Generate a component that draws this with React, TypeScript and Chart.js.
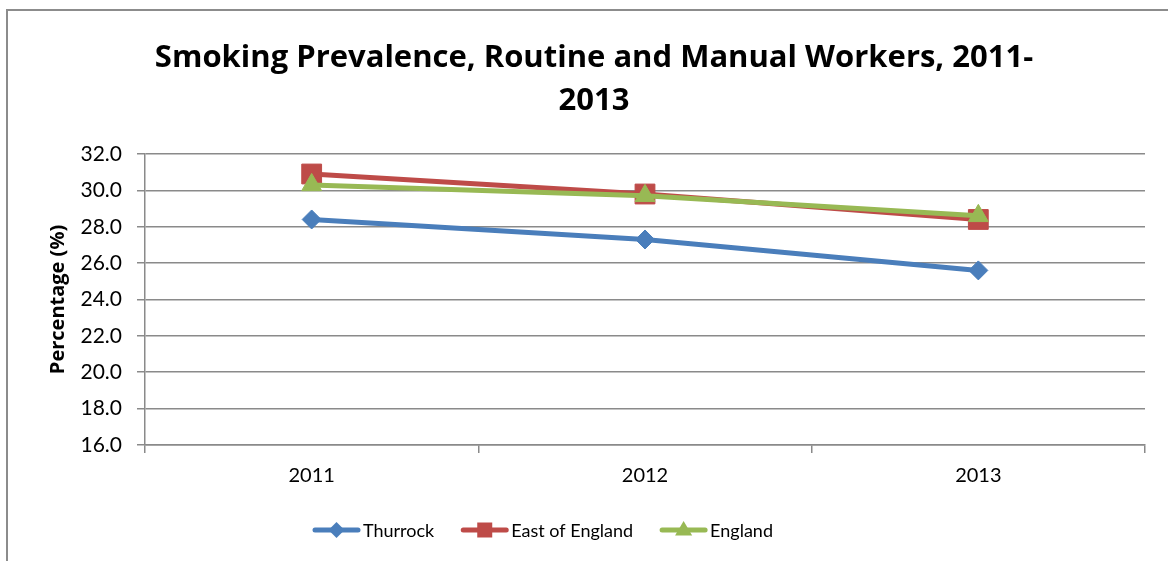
import React, { useEffect, useRef } from "react";
import { Chart, registerables } from "chart.js";

Chart.register(...registerables);

const categories = ["2011", "2012", "2013"];
const thurrock = [28.4, 27.3, 25.6];
const eastOfEngland = [30.9, 29.8, 28.4];
const england = [30.3, 29.7, 28.6];
const titleLines = ["Smoking Prevalence, Routine and Manual Workers, 2011-", "2013"];
const yTitle = "Percentage (%)";
const seriesNames = ["Thurrock", "East of England", "England"];

const BLUE = "#4A7EBB";
const RED = "#BE4B48";
const GREEN = "#98B954";
const GRID = "#8a8a8a";
const FONT = "Lato, 'Open Sans', sans-serif";
const TITLE_FONT = "'Open Sans', Lato, sans-serif";

function drawMarker(ctx: CanvasRenderingContext2D, style: string, x: number, y: number, color: string) {
  ctx.save();
  ctx.fillStyle = color;
  ctx.beginPath();
  if (style === "rectRot") {
    const r = 8;
    ctx.moveTo(x, y - r);
    ctx.lineTo(x + r, y);
    ctx.lineTo(x, y + r);
    ctx.lineTo(x - r, y);
  } else if (style === "rect") {
    const s = 7.5;
    ctx.rect(x - s, y - s, 2 * s, 2 * s);
  } else {
    const r = 9;
    ctx.moveTo(x, y - r);
    ctx.lineTo(x + r * 0.95, y + r * 0.6);
    ctx.lineTo(x - r * 0.95, y + r * 0.6);
  }
  ctx.closePath();
  ctx.fill();
  ctx.restore();
}

const lineLegendPlugin = {
  id: "lineLegend",
  afterDraw(chart: any, _args: any, opts: any) {
    const ctx: CanvasRenderingContext2D = chart.ctx;
    ctx.save();
    ctx.font = `${opts.fontSize}px ${FONT}`;
    ctx.textBaseline = "middle";
    ctx.textAlign = "left";
    let x = opts.x;
    const y = opts.y;
    chart.data.datasets.forEach((ds: any) => {
      ctx.strokeStyle = ds.borderColor;
      ctx.lineWidth = 5;
      ctx.lineCap = "round";
      ctx.beginPath();
      ctx.moveTo(x + 2, y);
      ctx.lineTo(x + opts.lineLen - 2, y);
      ctx.stroke();
      drawMarker(ctx, ds.pointStyle, x + opts.lineLen / 2, y, ds.borderColor);
      ctx.fillStyle = "#000";
      const tx = x + opts.lineLen + opts.textGap;
      ctx.fillText(ds.label, tx, y + 1);
      x = tx + ctx.measureText(ds.label).width + opts.itemGap;
    });
    ctx.restore();
  },
};

export default function App() {
  const ref = useRef<HTMLCanvasElement | null>(null);

  useEffect(() => {
    if (!ref.current) return;
    const chart = new Chart(ref.current, {
      type: "line",
      data: {
        labels: categories,
        datasets: [
          {
            label: seriesNames[0],
            data: thurrock,
            borderColor: BLUE,
            backgroundColor: BLUE,
            pointStyle: "rectRot",
            pointRadius: 9.5,
            pointBorderWidth: 1,
            borderWidth: 5,
            order: 2,
          },
          {
            label: seriesNames[1],
            data: eastOfEngland,
            borderColor: RED,
            backgroundColor: RED,
            pointStyle: "rect",
            pointRadius: 14,
            pointBorderWidth: 1,
            borderWidth: 5,
            order: 1,
          },
          {
            label: seriesNames[2],
            data: england,
            borderColor: GREEN,
            backgroundColor: GREEN,
            pointStyle: "triangle",
            pointRadius: 11.5,
            pointBorderWidth: 1,
            borderWidth: 5,
            order: 0,
          },
        ],
      },
      plugins: [lineLegendPlugin],
      options: {
        animation: false,
        responsive: false,
        maintainAspectRatio: false,
        layout: { padding: { left: 43, right: 23, top: 0, bottom: 0 } },
        plugins: {
          legend: { display: false },
          tooltip: { enabled: false },
          title: {
            display: true,
            text: titleLines,
            color: "#000",
            font: { family: TITLE_FONT, size: 31, weight: "bold", lineHeight: 1.387 },
            padding: { top: 36.5, bottom: 31.5 },
          },
          lineLegend: { x: 313, y: 530, lineLen: 47, textGap: 3, itemGap: 27, fontSize: 18 },
        } as any,
        scales: {
          x: {
            offset: true,
            grid: {
              offset: true,
              drawOnChartArea: false,
              drawTicks: true,
              tickLength: 8,
              color: GRID,
              lineWidth: 1.5,
            },
            border: { color: GRID, width: 1.5 },
            ticks: { color: "#000", font: { family: FONT, size: 20 }, padding: 11 },
            afterFit: (scale: any) => {
              scale.height = 116;
            },
          },
          y: {
            min: 16,
            max: 32,
            grid: { color: GRID, lineWidth: 1.5, tickLength: 8, drawTicks: true },
            border: { color: GRID, width: 1.5 },
            ticks: {
              stepSize: 2,
              color: "#000",
              font: { family: FONT, size: 21 },
              padding: 15,
              callback: (v: any) => Number(v).toFixed(1),
            },
            title: {
              display: true,
              text: yTitle,
              color: "#000",
              font: { family: TITLE_FONT, size: 20, weight: "bold" },
              padding: { top: 3, bottom: 4 },
            },
            afterFit: (scale: any) => {
              scale.width = 102;
            },
          },
        },
      },
    });
    return () => chart.destroy();
  }, []);

  return (
    <div style={{ position: "absolute", left: 0, top: 0, width: 1168, height: 561, overflow: "hidden", background: "#fff" }}>
      <div
        style={{
          position: "absolute",
          left: 6,
          top: 9,
          width: 1200,
          height: 600,
          borderLeft: "2px solid #8c8c8c",
          borderTop: "2px solid #8c8c8c",
        }}
      />
      <canvas ref={ref} width={1168} height={561} style={{ position: "absolute", left: 0, top: 0 }} />
    </div>
  );
}
